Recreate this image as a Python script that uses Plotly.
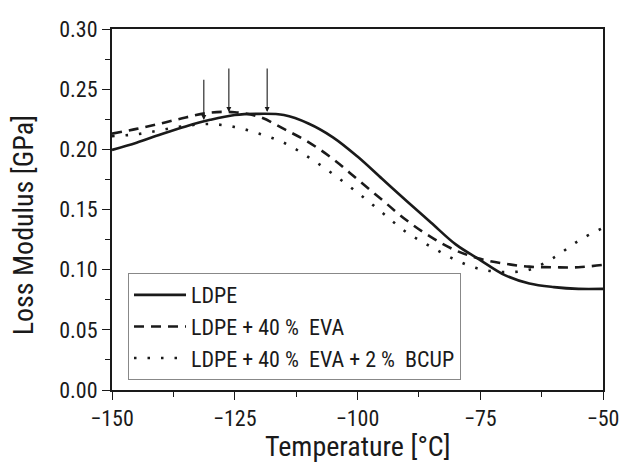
import plotly.graph_objects as go

temps = [-150, -145, -140, -135, -130, -125, -120, -115, -110, -105, -100,
         -95, -90, -85, -80, -75, -70, -65, -60, -55, -50]

ldpe = [0.1995, 0.2055, 0.2125, 0.219, 0.2245, 0.2285, 0.2295, 0.2285, 0.2215,
        0.210, 0.194, 0.1755, 0.157, 0.139, 0.121, 0.108, 0.0955, 0.0885,
        0.0855, 0.084, 0.084]

ldpe_eva = [0.213, 0.217, 0.2215, 0.2265, 0.2305, 0.2308, 0.227, 0.217, 0.206,
            0.192, 0.175, 0.158, 0.141, 0.127, 0.116, 0.109, 0.105, 0.1025,
            0.102, 0.102, 0.104]

ldpe_eva_bcup = [0.211, 0.2125, 0.216, 0.2195, 0.221, 0.2185, 0.213, 0.2055,
                 0.1935, 0.1795, 0.164, 0.1475, 0.131, 0.119, 0.108, 0.1005,
                 0.098, 0.100, 0.110, 0.124, 0.1347]

series_names = ["LDPE", "LDPE + 40 %  EVA", "LDPE + 40 %  EVA + 2 %  BCUP"]

# peak markers (arrows): temperature, arrow tip value, arrow tail value
peak_temps = [-131.3, -126.2, -118.4]
peak_tips = [0.2244, 0.231, 0.231]
peak_tails = [0.259, 0.2685, 0.2685]

FONT = "Roboto Condensed, DejaVu Sans Condensed, sans-serif"
INK = "#1a1a1a"

fig = go.Figure()
fig.add_trace(go.Scatter(x=temps, y=ldpe, mode="lines", name=series_names[0],
                         line=dict(color=INK, width=2.6, shape="spline")))
fig.add_trace(go.Scatter(x=temps, y=ldpe_eva, mode="lines", name=series_names[1],
                         line=dict(color=INK, width=2.6, shape="spline",
                                   dash="10px,7px")))
fig.add_trace(go.Scatter(x=temps, y=ldpe_eva_bcup, mode="lines", name=series_names[2],
                         line=dict(color=INK, width=2.6, shape="spline",
                                   dash="2.5px,11px")))

for t, tip, tail in zip(peak_temps, peak_tips, peak_tails):
    fig.add_annotation(x=t, y=tip, ax=t, ay=tail, xref="x", yref="y",
                       axref="x", ayref="y", showarrow=True, text="",
                       arrowhead=2, arrowsize=0.9, arrowwidth=1.1,
                       arrowcolor=INK)

fig.add_annotation(text="Temperature [°C]", xref="paper", yref="paper",
                   x=0.5, y=-0.205, xanchor="center", yanchor="bottom",
                   borderpad=0, showarrow=False,
                   font=dict(family=FONT, size=28, color=INK))
fig.add_annotation(text="Loss Modulus [GPa]", xref="paper", yref="paper",
                   x=-0.18, y=0.455, xanchor="center", yanchor="middle",
                   textangle=-90, showarrow=False,
                   font=dict(family=FONT, size=28, color=INK))

axis_common = dict(showgrid=False, zeroline=False, showline=True,
                   linecolor=INK, linewidth=2, mirror=True, automargin=False,
                   ticks="outside", ticklen=8, tickwidth=1.2, tickcolor=INK,
                   tickfont=dict(family=FONT, size=22, color=INK))

fig.update_xaxes(range=[-150, -50], tickmode="array",
                 tickvals=[-150, -125, -100, -75, -50],
                 minor=dict(ticks="outside", ticklen=5, tickwidth=1.2,
                            tickcolor=INK, dtick=12.5, tick0=-150),
                 **axis_common)
fig.update_yaxes(range=[0, 0.30], tickmode="array",
                 tickvals=[0.0, 0.05, 0.10, 0.15, 0.20, 0.25, 0.30],
                 tickformat=".2f",
                 minor=dict(ticks="outside", ticklen=5, tickwidth=1.2,
                            tickcolor=INK, dtick=0.025, tick0=0),
                 **axis_common)

fig.update_layout(
    width=620, height=467,
    margin=dict(l=112, r=17, t=29, b=77),
    plot_bgcolor="white", paper_bgcolor="white",
    font=dict(family=FONT, color=INK),
    showlegend=True,
    legend=dict(x=0.0326, y=0.324, xanchor="left", yanchor="top",
                bgcolor="white", bordercolor="#888888", borderwidth=1,
                font=dict(family=FONT, size=22, color=INK),
                itemwidth=52, tracegroupgap=0),
)

fig.write_html("out.html", config={"displayModeBar": False},
               post_script="document.body.style.margin='0';document.body.style.overflow='hidden';")
